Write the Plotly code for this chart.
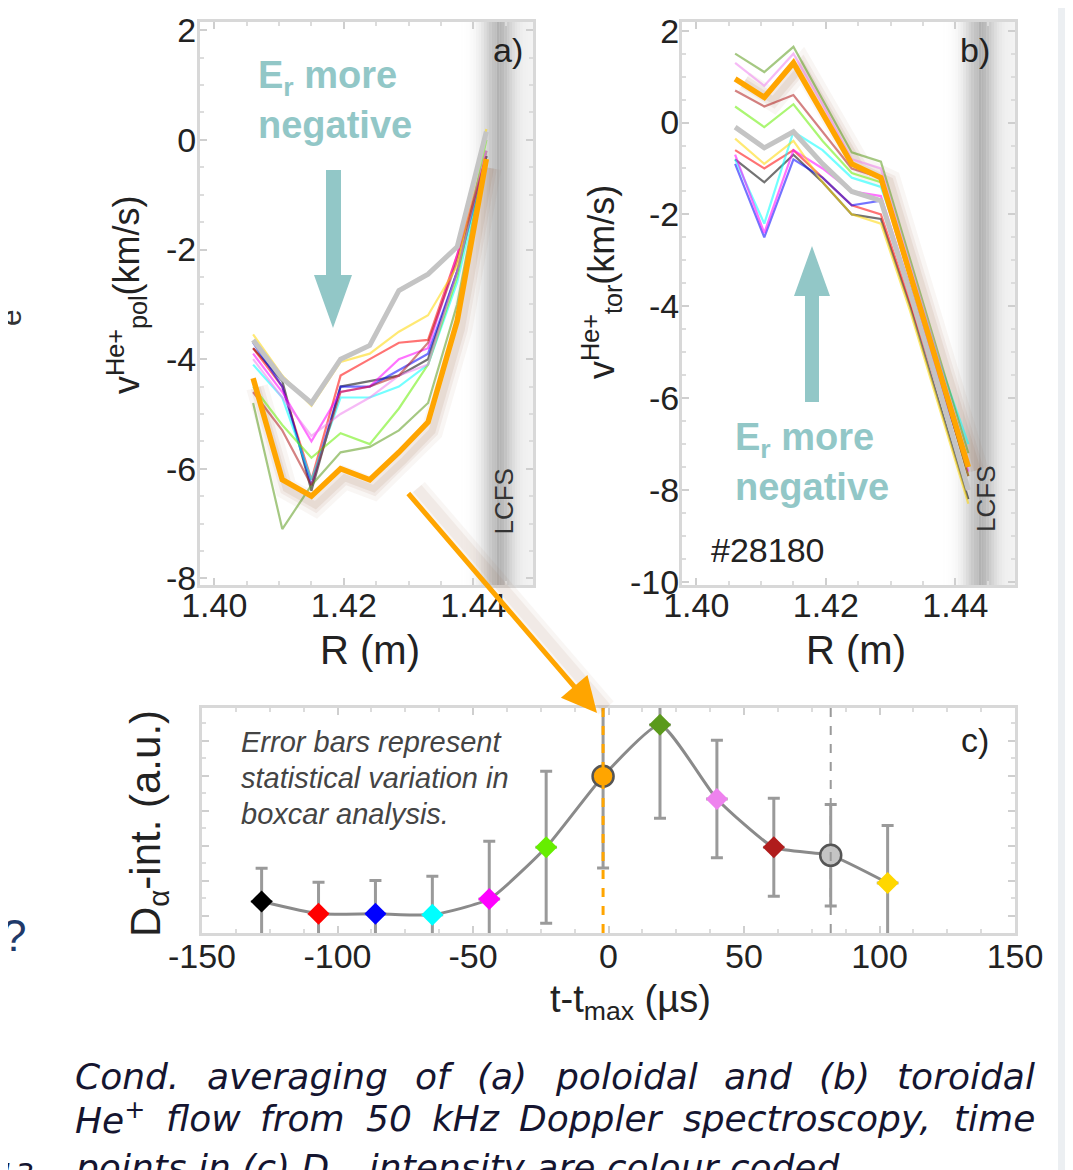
import numpy as np
import plotly.graph_objects as go

PAGE_W, PAGE_H = 1073, 1170
OFF = 8  # browser body margin
W, H = PAGE_W - OFF, PAGE_H - OFF

# ---------------- data ----------------
R_m = [1.406, 1.4105, 1.415, 1.4195, 1.424, 1.4285, 1.433, 1.4375, 1.442]

# poloidal He+ velocity (km/s), panel a
vpol_black = [-3.8, -4.4, -6.4, -4.5, -4.4, -4.3, -4.0, -2.4, -0.3]
vpol_red = [-3.8, -4.5, -6.2, -4.3, -4.0, -3.7, -3.65, -2.1, -0.3]
vpol_blue = [-3.7, -4.5, -6.3, -4.5, -4.5, -4.2, -3.9, -2.4, -0.3]
vpol_cyan = [-4.1, -4.7, -6.2, -4.7, -4.7, -4.5, -4.1, -2.6, -0.3]
vpol_magenta = [-3.9, -4.6, -5.5, -4.6, -4.5, -4.0, -3.8, -2.1, -0.2]
vpol_lime = [-4.5, -5.2, -5.8, -5.35, -5.55, -4.9, -4.1, -2.5, 0.0]
vpol_orange = [-4.35, -6.2, -6.5, -6.0, -6.2, -5.7, -5.15, -3.3, -0.35]
vpol_olive = [-4.8, -7.1, -6.3, -5.7, -5.6, -5.3, -4.8, -3.0, -0.2]
vpol_violet = [-4.0, -4.7, -5.4, -5.0, -4.7, -4.3, -4.1, -2.4, -0.2]
vpol_darkred = [-4.6, -5.3, -6.3, -4.6, -4.5, -4.3, -3.7, -2.2, -0.3]
vpol_grey = [-3.65, -4.35, -4.8, -4.0, -3.75, -2.75, -2.45, -1.95, 0.15]
vpol_gold = [-3.55, -4.3, -4.85, -4.05, -3.9, -3.5, -3.2, -2.3, 0.2]

# toroidal He+ velocity (km/s), panel b
vtor_black = [-0.8, -1.3, -0.7, -1.3, -2.0, -2.1, -4.0, -6.1, -8.2]
vtor_red = [-0.6, -1.0, -0.6, -1.2, -1.8, -2.0, -3.9, -5.9, -8.0]
vtor_blue = [-0.9, -2.5, -0.8, -1.2, -1.8, -1.7, -3.6, -5.7, -7.5]
vtor_cyan = [-0.8, -2.2, -0.2, -0.6, -1.2, -1.4, -3.2, -5.2, -7.0]
vtor_magenta = [-0.7, -2.4, -0.6, -1.0, -1.5, -1.6, -3.6, -5.6, -7.6]
vtor_lime = [0.35, -0.1, 0.4, -0.4, -1.1, -1.3, -3.4, -5.5, -7.7]
vtor_orange = [0.95, 0.55, 1.3, 0.2, -0.9, -1.2, -3.3, -5.4, -7.5]
vtor_olive = [1.5, 1.1, 1.65, 0.5, -0.65, -0.85, -3.0, -5.1, -7.2]
vtor_violet = [1.3, 0.8, 1.5, 0.4, -0.8, -1.0, -3.1, -5.2, -7.4]
vtor_darkred = [0.7, 0.35, 0.6, -0.2, -1.0, -1.2, -3.3, -5.5, -7.7]
vtor_grey = [-0.1, -0.55, -0.2, -0.9, -1.5, -1.7, -3.7, -5.8, -8.0]
vtor_gold = [-0.35, -0.9, -0.4, -1.3, -2.0, -2.2, -4.1, -6.2, -8.3]

# D-alpha intensity vs time, panel c
t_us = [-128, -107, -86, -65, -44, -23, -2, 19, 40, 61, 82, 103]
d_alpha = [0.90, 0.55, 0.55, 0.52, 0.97, 2.45, 4.48, 5.95, 3.83, 2.45, 2.22, 1.43]
d_alpha_err = [0.95, 0.90, 0.95, 1.10, 1.65, 2.17, 2.62, 2.67, 1.68, 1.40, 1.45, 1.64]
point_colors = ["#000000", "#ff0000", "#0000ff", "#00ffff", "#ff00ff", "#66ee00",
                "#ffa500", "#5b9a1c", "#ee82ee", "#b01c1c", "#c4c4c4", "#ffd700"]

tick_R = [1.40, 1.42, 1.44]
tick_va = [2, 0, -2, -4, -6, -8]
tick_vb = [2, 0, -2, -4, -6, -8, -10]
tick_t = [-150, -100, -50, 0, 50, 100, 150]

caption_line1 = ["Cond.", "averaging", "of", "(a)", "poloidal", "and", "(b)", "toroidal"]
caption_line2 = ["He<sup>+</sup>", "flow", "from", "50", "kHz", "Doppler", "spectroscopy,", "time"]
caption_line3 = "points in (c) D<sub>α</sub>  intensity are colour coded"

vpol_all = [vpol_black, vpol_red, vpol_blue, vpol_cyan, vpol_magenta, vpol_lime,
            vpol_orange, vpol_olive, vpol_violet, vpol_darkred, vpol_grey, vpol_gold]
vtor_all = [vtor_black, vtor_red, vtor_blue, vtor_cyan, vtor_magenta, vtor_lime,
            vtor_orange, vtor_olive, vtor_violet, vtor_darkred, vtor_grey, vtor_gold]

# approximate word widths (em) of the caption font, used only to justify the lines
em_line1 = [2.90, 5.03, 0.96, 1.39, 3.94, 1.88, 1.415, 3.83]
em_line2 = [1.95, 2.06, 2.35, 1.27, 1.86, 3.96, 6.96, 2.26]


# ---------------- helpers ----------------
def px(x):
    return (x - OFF) / W


def py(y):
    return 1 - (y - OFF) / H


def hexrgba(h, a):
    h = h.lstrip("#")
    r, g, b = int(h[0:2], 16), int(h[2:4], 16), int(h[4:6], 16)
    return f"rgba({r},{g},{b},{a})"


FONT = "Liberation Sans, Arial, sans-serif"
TEAL = "#92c7c7"
GLOW = "rgba(150,95,60,{a})"

# axis ids: shadows on x/y and x2/y2 (drawn first), panel a on x3/y3,
# panel b on x4/y4, panel c on x5/y5
SA, SB, PA, PB, PC = ("x", "y"), ("x2", "y2"), ("x3", "y3"), ("x4", "y4"), ("x5", "y5")

fig = go.Figure()

# soft shadow of the highlighted (orange) profiles, drawn on slightly offset hidden axes
for data, (xa, ya) in ((vpol_orange, SA), (vtor_orange, SB)):
    for wdt, a in ((22, 0.06), (13, 0.08), (7, 0.10)):
        fig.add_trace(go.Scatter(x=R_m, y=data, mode="lines", xaxis=xa, yaxis=ya,
                                 line=dict(color=GLOW.format(a=a), width=wdt),
                                 showlegend=False, hoverinfo="skip"))

HIGHLIGHT = {6: 5.5, 10: 5.0}  # orange and grey thick
order = [i for i in range(12) if i not in HIGHLIGHT] + [10, 6]

for data, (xa, ya) in ((vpol_all, PA), (vtor_all, PB)):
    for i in order:
        thick = i in HIGHLIGHT
        fig.add_trace(go.Scatter(
            x=R_m, y=data[i], mode="lines", xaxis=xa, yaxis=ya,
            line=dict(color=point_colors[i] if thick else hexrgba(point_colors[i], 0.55),
                      width=HIGHLIGHT.get(i, 2.2)),
            showlegend=False, hoverinfo="skip"))

# panel c connecting line
fig.add_trace(go.Scatter(x=t_us, y=d_alpha, mode="lines", xaxis=PC[0], yaxis=PC[1],
                         line=dict(color="#8a8a8a", width=3, shape="spline", smoothing=0.5),
                         showlegend=False, hoverinfo="skip"))
for i in range(len(t_us)):
    big = i in (6, 10)
    fig.add_trace(go.Scatter(
        x=[t_us[i]], y=[d_alpha[i]], mode="markers", xaxis=PC[0], yaxis=PC[1],
        marker=dict(symbol="circle" if big else "diamond", size=21 if big else 17,
                    color=point_colors[i],
                    line=dict(color="#555555", width=2.5) if big else dict(width=0)),
        error_y=dict(type="data", array=[d_alpha_err[i]], symmetric=True,
                     color="#9a9a9a", thickness=3, width=6),
        error_x=dict(type="constant", value=4, color="#a8a8a8", thickness=3, width=0),
        showlegend=False, hoverinfo="skip"))

shapes = []
# LCFS gradient bands
for xa, ya in (PA, PB):
    edges = np.arange(1.4380, 1.4494, 0.0004)
    for a0, a1 in zip(edges[:-1], edges[1:]):
        c = 0.5 * (a0 + a1)
        alpha = 0.45 * np.exp(-((c - 1.4437) / 0.0024) ** 2) + (0.08 if c > 1.4437 else 0.0)
        shapes.append(dict(type="rect", xref=xa, yref=f"{ya} domain", x0=a0, x1=a1, y0=0, y1=1,
                           fillcolor=f"rgba(110,110,110,{alpha:.3f})", line=dict(width=0), layer="below"))

# dashed markers in panel c
shapes.append(dict(type="line", xref=PC[0], yref=f"{PC[1]} domain", x0=t_us[6], x1=t_us[6], y0=0, y1=1,
                   line=dict(color="#ffa500", width=3, dash="dash")))
shapes.append(dict(type="line", xref=PC[0], yref=f"{PC[1]} domain", x0=t_us[10], x1=t_us[10], y0=0, y1=1,
                   line=dict(color="#9a9a9a", width=2, dash="dash")))


def poly(pts, color):
    path = "M " + " L ".join(f"{px(x):.5f},{py(y):.5f}" for x, y in pts) + " Z"
    return dict(type="path", xref="paper", yref="paper", path=path, fillcolor=color,
                line=dict(width=0))


# teal arrows
shapes.append(poly([(326, 170), (341, 170), (341, 275), (352, 275), (333, 328),
                    (314, 275), (326, 275)], TEAL))
shapes.append(poly([(805, 402), (819, 402), (819, 296), (830, 296), (812, 246),
                    (794, 296), (805, 296)], TEAL))
# right side grey strip
shapes.append(dict(type="rect", xref="paper", yref="paper", x0=px(1058), x1=1, y0=0, y1=1,
                   fillcolor="#eceff2", line=dict(width=0)))

annotations = []


def ann(text, x, y, size, color="#222", angle=0, italic=False, xanchor="center", bold=False, fam=FONT):
    annotations.append(dict(text=text, x=px(x), y=py(y), xref="paper", yref="paper",
                            showarrow=False, textangle=angle, xanchor=xanchor, yanchor="middle",
                            font=dict(family=fam, size=size, color=color,
                                      style="italic" if italic else "normal",
                                      weight="bold" if bold else "normal")))


ann("v<sup>He+</sup><sub>pol</sub>(km/s)", 127, 295, 36, angle=-90)
ann("v<sup>He+</sup><sub>tor</sub>(km/s)", 602, 282, 36, angle=-90)
ann("R (m)", 370, 650, 40)
ann("R (m)", 856, 650, 40)
ann("D<sub>α</sub>-int. (a.u.)", 148, 824, 42, angle=-90)
ann("t-t<sub>max</sub> (µs)", 630, 1002, 38)
ann("a)", 508, 50, 34, color="#222")
ann("b)", 975, 50, 34, color="#222")
ann("c)", 975, 740, 34, color="#222")
ann("#28180", 767, 550, 34, color="#222")
ann("E<sub>r</sub> more", 256, 78, 38, color=TEAL, bold=True, xanchor="left")
ann("negative", 256, 125, 38, color=TEAL, bold=True, xanchor="left")
ann("E<sub>r</sub> more", 733, 440, 38, color=TEAL, bold=True, xanchor="left")
ann("negative", 733, 487, 38, color=TEAL, bold=True, xanchor="left")
ann("Error bars represent", 239, 742, 29, color="#444", italic=True, xanchor="left")
ann("statistical variation in", 239, 778, 29, color="#444", italic=True, xanchor="left")
ann("boxcar analysis.", 239, 814, 29, color="#444", italic=True, xanchor="left")

# caption, lines 1-2 justified between x=73 and x=1033
CAP = "DejaVu Sans, Verdana, sans-serif"
CAPCOL = "#151530"
CAPSZ = 36
for words, ems, yy in ((caption_line1, em_line1, 1076), (caption_line2, em_line2, 1118)):
    widths = [e * CAPSZ for e in ems]
    gap = (1033 - 73 - sum(widths)) / (len(words) - 1)
    xx = 73
    for w_, wd in zip(words, widths):
        ann(w_, xx, yy, CAPSZ, color=CAPCOL, italic=True, xanchor="left", fam=CAP)
        xx += wd + gap
ann(caption_line3, 73, 1170, CAPSZ, color=CAPCOL, italic=True, xanchor="left", fam=CAP)

ann("?", 14, 935, 44, color="#1f3a6a")
ann("13", 15, 1174, 30, color="#151530", italic=True, fam=CAP)
ann("e", 10, 318, 30, color="#333", angle=-90)

# LCFS labels
for (xa, ya), yv in ((PA, -6.6), (PB, -8.2)):
    annotations.append(dict(text="LCFS", x=1.4447, y=yv, xref=xa, yref=ya, showarrow=False,
                            textangle=-90, font=dict(family=FONT, size=26, color="#333")))

# orange arrow from panel a to panel c (with soft shadow)
for wdt, a in ((20, 0.05), (11, 0.07)):
    annotations.append(dict(x=px(606), y=py(708), xref="paper", yref="paper", ax=-190, ay=-221,
                            axref="pixel", ayref="pixel", showarrow=True, arrowhead=0,
                            arrowwidth=wdt, arrowcolor=GLOW.format(a=a), text=""))
annotations.append(dict(x=px(597), y=py(713), xref="paper", yref="paper", ax=-190, ay=-221,
                        axref="pixel", ayref="pixel", showarrow=True, arrowhead=2, arrowsize=1.4,
                        arrowwidth=5, arrowcolor="#ffa500", text=""))

axis_common = dict(showline=True, mirror="allticks", linecolor="#d8d8d8", linewidth=3,
                   ticks="inside", ticklen=7, tickcolor="#cfcfcf", tickwidth=2,
                   showgrid=False, zeroline=False, automargin=False,
                   tickfont=dict(family=FONT, size=34, color="#222"),
                   minor=dict(ticks="inside", ticklen=4, tickcolor="#dcdcdc", tickwidth=1.5))

RANGE_R = [1.3978, 1.4492]
RANGE_A = [-8.12, 2.15]
RANGE_B = [-10.07, 2.19]

fig.update_layout(
    width=W, height=H, margin=dict(l=0, r=0, t=0, b=0, autoexpand=False),
    paper_bgcolor="white", plot_bgcolor="rgba(0,0,0,0)", showlegend=False,
    # hidden, slightly offset copies of the panel a/b axes (for the soft shadows)
    xaxis=dict(domain=[px(204), px(537)], anchor="y", range=RANGE_R, visible=False),
    yaxis=dict(domain=[py(594), py(31)], anchor="x", range=RANGE_A, visible=False),
    xaxis2=dict(domain=[px(691), px(1024)], anchor="y2", range=RANGE_R, visible=False),
    yaxis2=dict(domain=[py(588), py(25)], anchor="x2", range=RANGE_B, visible=False),
    # panel a
    xaxis3=dict(domain=[px(200), px(533)], anchor="y3", range=RANGE_R,
                tickvals=tick_R, ticktext=[f"{v:.2f}" for v in tick_R], ticklabelstandoff=-12,
                minor_dtick=0.005, minor_tick0=1.40, **axis_common),
    yaxis3=dict(domain=[py(585), py(22)], anchor="x3", range=RANGE_A,
                tickvals=tick_va, ticktext=[str(v) for v in tick_va], ticklabelstandoff=-6,
                minor_dtick=0.5, minor_tick0=0, **axis_common),
    # panel b
    xaxis4=dict(domain=[px(682), px(1015)], anchor="y4", range=RANGE_R,
                tickvals=tick_R, ticktext=[f"{v:.2f}" for v in tick_R], ticklabelstandoff=-12,
                minor_dtick=0.005, minor_tick0=1.40, **axis_common),
    yaxis4=dict(domain=[py(585), py(22)], anchor="x4", range=RANGE_B,
                tickvals=tick_vb, ticktext=[str(v) for v in tick_vb], ticklabelstandoff=-7,
                minor_dtick=0.5, minor_tick0=0, **axis_common),
    # panel c
    xaxis5=dict(domain=[px(202), px(1015)], anchor="y5", range=[-150, 150],
                tickvals=tick_t, ticktext=[str(v) for v in tick_t], ticklabelstandoff=-9,
                minor_dtick=12.5, minor_tick0=0, **axis_common),
    yaxis5=dict(domain=[py(933), py(708)], anchor="x5", range=[0, 6.43],
                tickvals=[0.48, 1.48, 2.48, 3.48, 4.48, 5.48], showticklabels=False,
                **axis_common),
    shapes=shapes, annotations=annotations,
)

fig.write_html("out.html")
